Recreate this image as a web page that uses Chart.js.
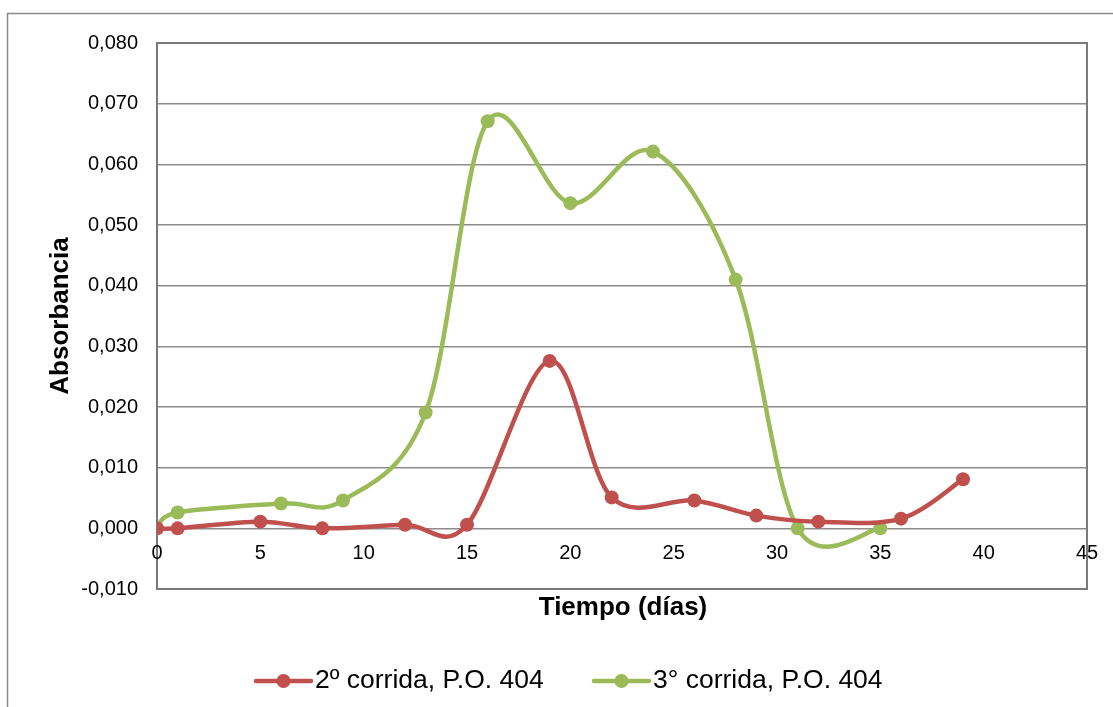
<!DOCTYPE html>
<html lang="es">
<head>
    <meta charset="UTF-8">
    <title>Absorbancia vs Tiempo</title>
    <script src="https://cdn.jsdelivr.net/npm/chart.js@4.4.1/dist/chart.umd.min.js"></script>
    <style>
        html, body {
            margin: 0;
            padding: 0;
            background: #ffffff;
        }
        #wrap {
            width: 1113px;
            height: 707px;
            position: relative;
        }
    </style>
</head>
<body>
    <div id="wrap">
        <canvas id="chart" width="1113" height="707"></canvas>
    </div>

    <script>
        // 2º corrida, P.O. 404
        const dias2 = [0, 1, 5, 8, 12, 15, 19, 22, 26, 29, 32, 36, 39];
        const abs2  = [0, 0, 0.0011, 0, 0.0006, 0.0006, 0.0276, 0.0051, 0.0046, 0.0021, 0.0011, 0.0016, 0.0081];

        // 3° corrida, P.O. 404
        const dias3 = [0, 1, 6, 9, 13, 16, 20, 24, 28, 31, 35];
        const abs3  = [0, 0.0026, 0.0041, 0.0046, 0.0191, 0.0671, 0.0536, 0.0621, 0.041, 0, 0];

        const xTicks = [0, 5, 10, 15, 20, 25, 30, 35, 40, 45];
        const seriesNames = ['2º corrida, P.O. 404', '3° corrida, P.O. 404'];
        const seriesColors = ['#C0504D', '#9BBB59'];

        const FONT = "'Liberation Sans', Arial, sans-serif";

        function toPoints(xs, ys) {
            return xs.map((x, i) => ({ x: x, y: ys[i] }));
        }

        // Catmull-Rom style control points (1/6 of the neighbour chord),
        // closer to the office "smoothed line" than the default spline
        const smoothLines = {
            id: 'smoothLines',
            afterDatasetsUpdate(chart) {
                chart.data.datasets.forEach((ds, di) => {
                    const meta = chart.getDatasetMeta(di);
                    const pts = meta.data;
                    pts.forEach((p, i) => {
                        const prev = pts[i - 1] || p;
                        const next = pts[i + 1] || p;
                        const dx = (next.x - prev.x) / 6;
                        const dy = (next.y - prev.y) / 6;
                        p.cp1x = p.x - dx;
                        p.cp1y = p.y - dy;
                        p.cp2x = p.x + dx;
                        p.cp2y = p.y + dy;
                    });
                    if (meta.dataset) meta.dataset._pointsUpdated = true;
                });
            }
        };

        // frame, outer border, x labels, titles and legend
        const excelLook = {
            id: 'excelLook',
            beforeDraw(chart) {
                const ctx = chart.ctx;
                ctx.save();
                ctx.strokeStyle = '#8a8a8a';
                ctx.lineWidth = 1.5;
                ctx.beginPath();
                ctx.moveTo(7.5, 707);
                ctx.lineTo(7.5, 13.5);
                ctx.lineTo(1113, 13.5);
                ctx.stroke();
                ctx.restore();
            },
            beforeDatasetsDraw(chart) {
                const ctx = chart.ctx;
                const a = chart.chartArea;
                const xs = chart.scales.x;
                const ys = chart.scales.y;
                ctx.save();
                ctx.strokeStyle = '#7a7a7a';
                ctx.lineWidth = 2;
                ctx.strokeRect(a.left, a.top, a.right - a.left, a.bottom - a.top);

                // x labels sit just under the zero line
                ctx.fillStyle = '#000';
                ctx.font = '20px ' + FONT;
                ctx.textAlign = 'center';
                ctx.textBaseline = 'middle';
                const y0 = ys.getPixelForValue(0);
                xTicks.forEach(v => {
                    ctx.fillText(String(v), xs.getPixelForValue(v), y0 + 25);
                });
                ctx.restore();
            },
            afterDraw(chart) {
                const ctx = chart.ctx;
                const a = chart.chartArea;
                ctx.save();
                ctx.fillStyle = '#000';
                ctx.font = 'bold 26px ' + FONT;
                ctx.textAlign = 'center';
                ctx.textBaseline = 'middle';
                ctx.fillText('Tiempo (días)', (a.left + a.right) / 2 + 1, 608);

                ctx.translate(61, (a.top + a.bottom) / 2);
                ctx.rotate(-Math.PI / 2);
                ctx.fillText('Absorbancia', 0, 0);
                ctx.restore();

                // legend
                const items = [
                    { x: 256, name: seriesNames[0], color: seriesColors[0] },
                    { x: 594, name: seriesNames[1], color: seriesColors[1] }
                ];
                ctx.save();
                ctx.font = '26.5px ' + FONT;
                ctx.textBaseline = 'middle';
                ctx.textAlign = 'left';
                items.forEach(it => {
                    const ly = 681;
                    ctx.strokeStyle = it.color;
                    ctx.lineWidth = 4.5;
                    ctx.lineCap = 'round';
                    ctx.beginPath();
                    ctx.moveTo(it.x, ly);
                    ctx.lineTo(it.x + 55, ly);
                    ctx.stroke();
                    ctx.fillStyle = it.color;
                    ctx.beginPath();
                    ctx.arc(it.x + 27.5, ly, 7, 0, Math.PI * 2);
                    ctx.fill();
                    ctx.fillStyle = '#000';
                    ctx.fillText(it.name, it.x + 59, ly);
                });
                ctx.restore();
            }
        };

        function dataset(i, xs, ys) {
            return {
                label: seriesNames[i],
                data: toPoints(xs, ys),
                borderColor: seriesColors[i],
                backgroundColor: seriesColors[i],
                borderWidth: 4.5,
                pointRadius: 7,
                pointHoverRadius: 7,
                pointBorderWidth: 0,
                tension: 0.4,
                fill: false
            };
        }

        new Chart(document.getElementById('chart'), {
            type: 'line',
            data: {
                datasets: [
                    dataset(0, dias2, abs2),
                    dataset(1, dias3, abs3)
                ]
            },
            options: {
                responsive: false,
                animation: false,
                events: [],
                layout: {
                    padding: { left: 0, top: 43, right: 26, bottom: 118 }
                },
                plugins: {
                    legend: { display: false },
                    tooltip: { enabled: false }
                },
                scales: {
                    x: {
                        type: 'linear',
                        display: false,
                        min: 0,
                        max: 45
                    },
                    y: {
                        min: -0.01,
                        max: 0.08,
                        afterFit(scale) {
                            scale.width = 157;
                        },
                        border: { display: false },
                        grid: {
                            color: '#8c8c8c',
                            lineWidth: 1.5,
                            drawTicks: false
                        },
                        ticks: {
                            stepSize: 0.01,
                            padding: 19,
                            color: '#000',
                            font: { family: FONT, size: 20 },
                            callback: v => v.toFixed(3).replace('.', ',')
                        }
                    }
                }
            },
            plugins: [smoothLines, excelLook]
        });
    </script>
</body>
</html>
